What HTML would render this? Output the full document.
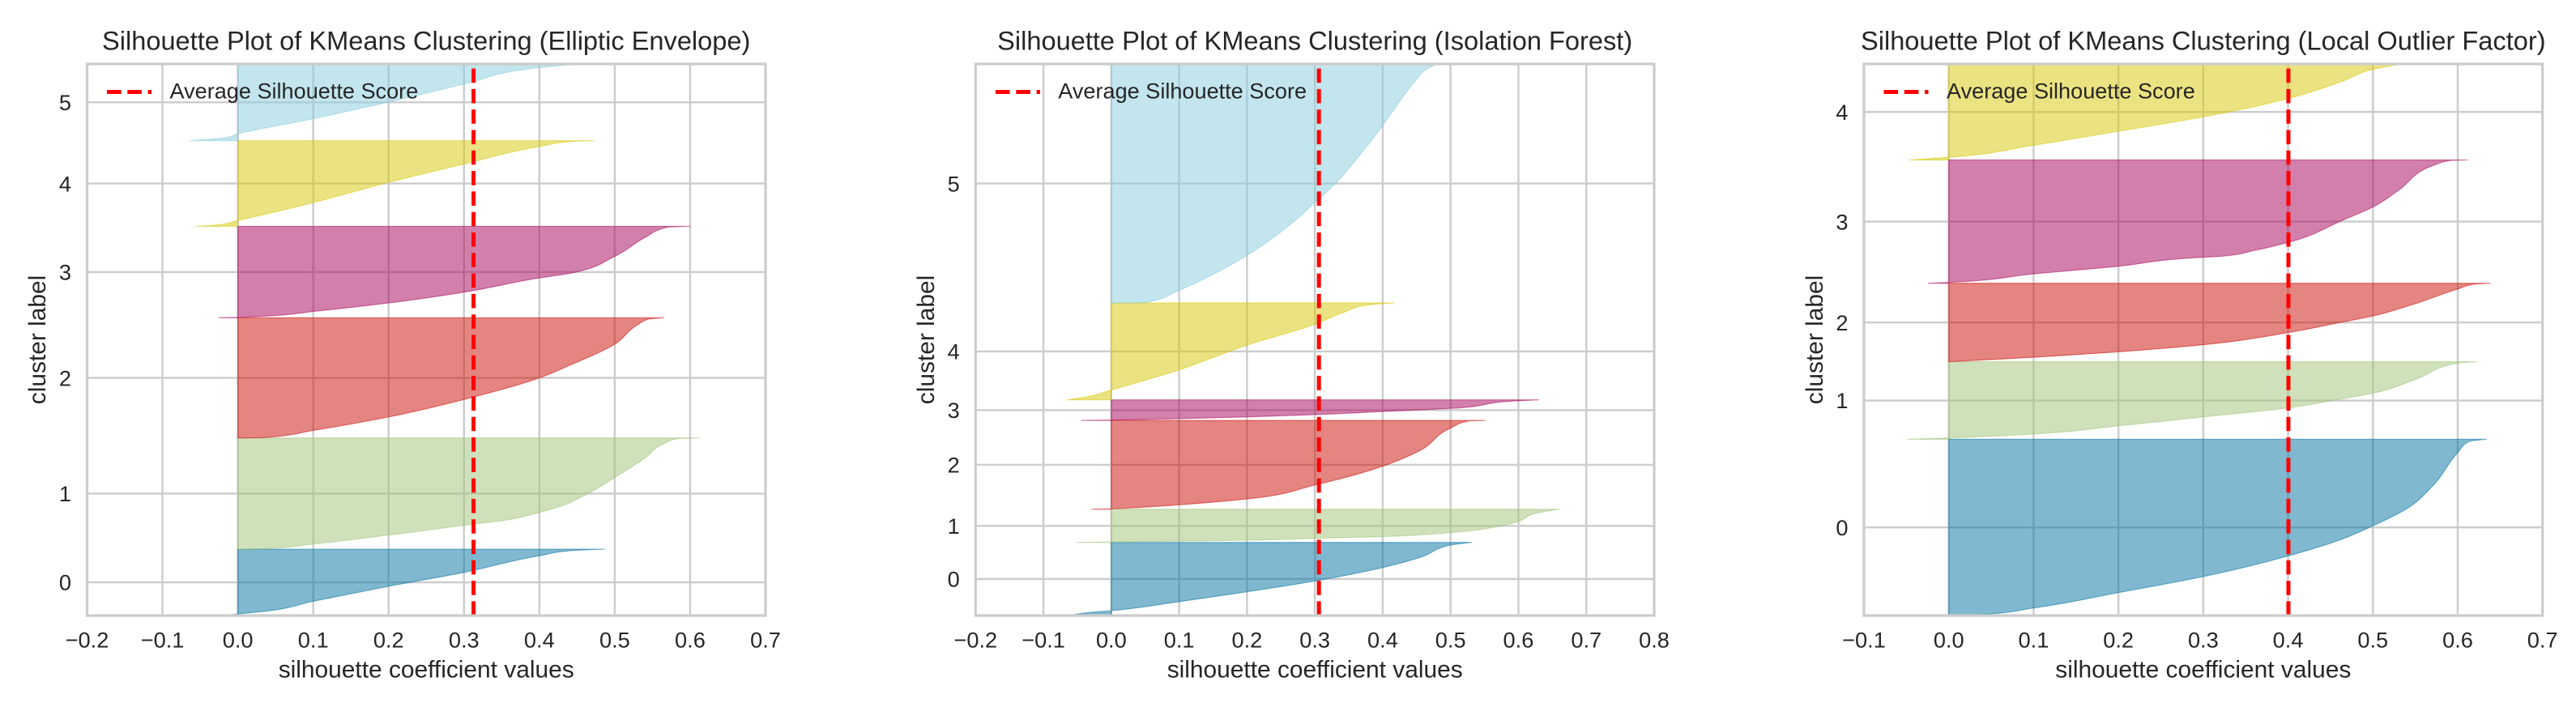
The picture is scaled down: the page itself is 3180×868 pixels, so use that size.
<!DOCTYPE html>
<html lang="en">
<head>
<meta charset="utf-8">
<title>Silhouette Plots of KMeans Clustering</title>
<style>
html,body{margin:0;padding:0;background:#fff;width:3180px;height:868px;overflow:hidden}
svg{display:block}
text{font-family:"Liberation Sans",Arial,sans-serif;fill:#262626}
.title{font-size:32.6px;text-anchor:middle}
.axis-label{font-size:29.9px;text-anchor:middle}
.tick{font-size:27.2px}
.legend-text{font-size:27.1px}
</style>
</head>
<body>
<svg id="figure" xmlns="http://www.w3.org/2000/svg" width="3180" height="868" viewBox="0 0 3180 868">
  <defs>
    <clipPath id="clip-elliptic"><rect x="107.5" y="79" width="837.5" height="681"/></clipPath>
    <clipPath id="clip-isolation"><rect x="1204.3" y="79" width="837.7" height="681"/></clipPath>
    <clipPath id="clip-lof"><rect x="2301" y="79" width="837.7" height="681"/></clipPath>
  </defs>

  <g>
    <g id="elliptic-plot"></g>
    <text class="title" x="526.2" y="61.7">Silhouette Plot of KMeans Clustering (Elliptic Envelope)</text>
    <text class="axis-label" x="526.2" y="836.5">silhouette coefficient values</text>
    <text class="axis-label" transform="translate(56,419.5) rotate(-90)">cluster label</text>
    <g>
      <line x1="132" x2="187" y1="113.5" y2="113.5" stroke="#ff0000" stroke-width="5" stroke-dasharray="17.6 7.7"/>
      <text class="legend-text" x="209.5" y="121.7">Average Silhouette Score</text>
    </g>
  </g>

  <g>
    <g id="isolation-plot"></g>
    <text class="title" x="1623.2" y="61.7">Silhouette Plot of KMeans Clustering (Isolation Forest)</text>
    <text class="axis-label" x="1623.2" y="836.5">silhouette coefficient values</text>
    <text class="axis-label" transform="translate(1153,419.5) rotate(-90)">cluster label</text>
    <g>
      <line x1="1229" x2="1284" y1="113.5" y2="113.5" stroke="#ff0000" stroke-width="5" stroke-dasharray="17.6 7.7"/>
      <text class="legend-text" x="1306.3" y="121.7">Average Silhouette Score</text>
    </g>
  </g>

  <g>
    <g id="lof-plot"></g>
    <text class="title" x="2719.8" y="61.7">Silhouette Plot of KMeans Clustering (Local Outlier Factor)</text>
    <text class="axis-label" x="2719.8" y="836.5">silhouette coefficient values</text>
    <text class="axis-label" transform="translate(2250,419.5) rotate(-90)">cluster label</text>
    <g>
      <line x1="2325.5" x2="2380.5" y1="113.5" y2="113.5" stroke="#ff0000" stroke-width="5" stroke-dasharray="17.6 7.7"/>
      <text class="legend-text" x="2403" y="121.7">Average Silhouette Score</text>
    </g>
  </g>
</svg>

<script>
// ---------- chart data ----------
const clusterLabels = [0, 1, 2, 3, 4, 5];
const clusterColors = ['#0272A2', '#9FC377', '#CA0B03', '#A50258', '#D7C703', '#88CCDD'];

// Elliptic Envelope
const ellipticXTicks = [-0.2, -0.1, 0.0, 0.1, 0.2, 0.3, 0.4, 0.5, 0.6, 0.7];
const ellipticAverage = 0.3127;
const ellipticSizes = [148, 248, 268, 204, 191, 171];
const ellipticRanks = [
  [0, 2.4, 6, 21.5, 44, 65, 90, 98, 100],
  [0, 0.5, 4.6, 12.7, 21.4, 26.2, 33, 39, 48.4, 64.5, 81.9, 94.8, 99.2, 100],
  [0, 0.2, 6.3, 17.5, 32, 50, 60.4, 78, 94, 98.9, 100],
  [0, 0.5, 2, 6.9, 16.2, 28, 43.6, 48.5, 67.2, 87.7, 99, 100],
  [0, 1.6, 6.8, 27.7, 51.3, 72.8, 93.2, 98.9, 100],
  [0, 3.5, 8.8, 28.7, 50.3, 73.7, 95.3, 100]
];
const ellipticCoefs = [
  [-0.014, 0, 0.0325, 0.1, 0.2, 0.3, 0.4, 0.445, 0.487],
  [0, 0.036, 0.1, 0.2, 0.3, 0.356, 0.4, 0.43, 0.46, 0.5, 0.54, 0.565, 0.582, 0.612],
  [0, 0.034, 0.1, 0.2, 0.3, 0.4, 0.44, 0.5, 0.53, 0.545, 0.565],
  [-0.025, 0, 0.04, 0.1, 0.2, 0.3, 0.4, 0.44, 0.5, 0.54, 0.57, 0.6],
  [-0.055, -0.027, 0, 0.1, 0.2, 0.3, 0.4, 0.44, 0.472],
  [-0.064, -0.02, 0, 0.1, 0.2, 0.3, 0.4, 0.45]
];

// Isolation Forest
const isolationXTicks = [-0.2, -0.1, 0.0, 0.1, 0.2, 0.3, 0.4, 0.5, 0.6, 0.7, 0.8];
const isolationAverage = 0.306;
const isolationSizes = [163, 74, 198, 46, 216, 533];
const isolationRanks = [
  [0, 3.7, 6.7, 19, 32.5, 47.2, 65.6, 80.4, 96.3, 100],
  [0, 1.4, 4, 6.8, 12.2, 17.6, 29.7, 46, 63.5, 87.8, 100],
  [0, 0.5, 2, 5, 11.6, 27.3, 48.5, 66.2, 91.4, 99.5, 100],
  [0, 2, 8.7, 17.4, 28.3, 43.5, 58.7, 95.7, 100],
  [0, 3.2, 10.2, 31, 56.5, 78, 90.8, 97.8, 100],
  [0, 0.2, 5.3, 12, 19.9, 24.5, 33, 42, 50.5, 61.2, 74.2, 83.8, 93.4, 97.6, 100]
];
const isolationCoefs = [
  [-0.063, -0.037, 0, 0.1, 0.2, 0.3, 0.4, 0.458, 0.5, 0.531],
  [-0.052, 0, 0.1, 0.2, 0.3, 0.4, 0.5, 0.565, 0.6, 0.626, 0.66],
  [-0.029, 0, 0.04, 0.1, 0.2, 0.3, 0.4, 0.455, 0.5, 0.527, 0.55],
  [-0.044, 0, 0.1, 0.2, 0.3, 0.4, 0.5, 0.6, 0.63],
  [-0.065, -0.035, 0, 0.1, 0.2, 0.3, 0.344, 0.376, 0.417],
  [0, 0.05, 0.1, 0.15, 0.2, 0.2247, 0.2645, 0.3, 0.3322, 0.3641, 0.4, 0.4236, 0.4495, 0.4634, 0.48]
];

// Local Outlier Factor
const lofXTicks = [-0.1, 0.0, 0.1, 0.2, 0.3, 0.4, 0.5, 0.6, 0.7];
const lofAverage = 0.4004;
const lofSizes = [393, 173, 175, 275, 214];
const lofRanks = [
  [0, 0.5, 4.3, 13, 22.1, 33.8, 42.7, 50.9, 60.6, 73.3, 92.4, 98.7, 100],
  [0, 1.7, 6.9, 17.3, 28.9, 40.5, 50.3, 59.5, 78, 98.3, 100],
  [0, 5.7, 12.6, 21.7, 37.1, 49.7, 58.3, 72.6, 92.6, 98.9, 100],
  [0, 0.7, 7.6, 13.8, 21.1, 21.8, 26.9, 33.1, 51.6, 61.8, 75.3, 96, 99.6, 100],
  [0, 2.8, 15.4, 29.9, 44.9, 64, 82.7, 94.4, 100]
];
const lofCoefs = [
  [0, 0.037, 0.1, 0.2, 0.3, 0.4, 0.46, 0.5, 0.54, 0.57, 0.6, 0.613, 0.634],
  [-0.048, 0, 0.1, 0.2, 0.3, 0.4, 0.454, 0.5, 0.552, 0.6, 0.622],
  [0, 0.1, 0.2, 0.3, 0.4, 0.46, 0.5, 0.546, 0.6, 0.62, 0.638],
  [-0.024, 0, 0.1, 0.2, 0.3, 0.32, 0.362, 0.4, 0.466, 0.5, 0.53, 0.573, 0.592, 0.611],
  [-0.046, 0, 0.1, 0.2, 0.3, 0.4, 0.466, 0.5, 0.533]
];

// ---------- rendering ----------
const SVG_NS = 'http://www.w3.org/2000/svg';
const AX_TOP = 79;
const AX_BOTTOM = 760;

function make(tag, parent, attrs) {
  const el = document.createElementNS(SVG_NS, tag);
  Object.keys(attrs).forEach(function (k) { el.setAttribute(k, attrs[k]); });
  parent.appendChild(el);
  return el;
}

function formatTick(v) {
  const s = Math.abs(v).toFixed(1);
  return v < -1e-9 ? '\u2212' + s : s;
}

// Tangents for a monotone cubic through (us[i], vs[i]).
function monotoneTangents(us, vs) {
  const n = us.length;
  const h = [];
  const s = [];
  for (let i = 0; i < n - 1; i++) {
    h.push(us[i + 1] - us[i]);
    s.push((vs[i + 1] - vs[i]) / h[i]);
  }
  const m = new Array(n).fill(0);
  for (let i = 1; i < n - 1; i++) {
    const p = (s[i - 1] * h[i] + s[i] * h[i - 1]) / (h[i - 1] + h[i]);
    m[i] = (Math.sign(s[i - 1]) + Math.sign(s[i])) * Math.min(Math.abs(s[i - 1]), Math.abs(s[i]), 0.5 * Math.abs(p));
  }
  m[0] = (3 * s[0] - m[1]) / 2;
  m[n - 1] = (3 * s[n - 2] - m[n - 2]) / 2;
  return m;
}

function drawPanel(key, hostId, clipId, left, right, xTicks, average, sizes, ranks, coefs) {
  const host = document.getElementById(hostId);
  const xMin = xTicks[0];
  const xMax = xTicks[xTicks.length - 1];
  const total = sizes.reduce(function (a, b) { return a + b; }, 0);
  const xScale = function (v) { return left + (v - xMin) / (xMax - xMin) * (right - left); };
  const yScale = function (v) { return AX_BOTTOM - v / total * (AX_BOTTOM - AX_TOP); };

  // vertical grid lines and x tick labels
  xTicks.forEach(function (t) {
    const px = xScale(t);
    if (t !== xMin && t !== xMax) {
      const g = make('line', host, { x1: px, x2: px, y1: AX_TOP, y2: AX_BOTTOM, stroke: '#cccccc', 'stroke-width': 2.4 });
      
      
    }
    const label = make('text', host, { class: 'tick', x: px, y: 799.3, 'text-anchor': 'middle' });
    label.textContent = formatTick(t);
    
    
  });

  // horizontal grid lines and y tick labels, one per cluster centre
  let cursor = 0;
  sizes.forEach(function (size, i) {
    const py = yScale(cursor + size / 2);
    const g = make('line', host, { x1: left, x2: right, y1: py, y2: py, stroke: '#cccccc', 'stroke-width': 2.4 });
    
    
    const label = make('text', host, { class: 'tick', x: left - 19.5, y: py + 9.7, 'text-anchor': 'end' });
    label.textContent = String(clusterLabels[i]);
    
    
    cursor += size;
  });

  // silhouette bands
  const bands = make('g', host, { 'clip-path': 'url(#' + clipId + ')' });
  
  
  cursor = 0;
  sizes.forEach(function (size, i) {
    const bottom = cursor;
    const r = ranks[i];
    const c = coefs[i];
    const m = monotoneTangents(r, c);
    const py = function (rank) { return yScale(bottom + rank / 100 * size); };
    let d = 'M' + xScale(0).toFixed(2) + ' ' + yScale(bottom).toFixed(2);
    d += 'L' + xScale(c[0]).toFixed(2) + ' ' + py(r[0]).toFixed(2);
    for (let j = 0; j < r.length - 1; j++) {
      const dr = (r[j + 1] - r[j]) / 3;
      d += 'C' + xScale(c[j] + dr * m[j]).toFixed(2) + ' ' + py(r[j] + dr).toFixed(2) +
           ' ' + xScale(c[j + 1] - dr * m[j + 1]).toFixed(2) + ' ' + py(r[j + 1] - dr).toFixed(2) +
           ' ' + xScale(c[j + 1]).toFixed(2) + ' ' + py(r[j + 1]).toFixed(2);
    }
    d += 'L' + xScale(0).toFixed(2) + ' ' + yScale(bottom + size).toFixed(2) + 'Z';
    const band = make('path', bands, {
      d: d,
      fill: clusterColors[i],
      'fill-opacity': 0.5,
      stroke: clusterColors[i],
      'stroke-opacity': 0.5,
      'stroke-width': 1.2,
      'stroke-linejoin': 'round'
    });
    
    
    cursor += size;
  });

  // average silhouette score line (drawn bottom to top)
  const avgX = xScale(average);
  const avg = make('line', host, {
    x1: avgX, x2: avgX, y1: AX_BOTTOM, y2: AX_TOP,
    stroke: '#ff0000', 'stroke-width': 5, 'stroke-dasharray': '17.6 7.7'
  });
  
  

  // axes frame
  const frame = make('rect', host, {
    x: left, y: AX_TOP, width: right - left, height: AX_BOTTOM - AX_TOP,
    fill: 'none', stroke: '#cccccc', 'stroke-width': 3.2
  });
  
  
}

drawPanel('elliptic', 'elliptic-plot', 'clip-elliptic', 107.5, 945, ellipticXTicks, ellipticAverage, ellipticSizes, ellipticRanks, ellipticCoefs);
drawPanel('isolation', 'isolation-plot', 'clip-isolation', 1204.3, 2042, isolationXTicks, isolationAverage, isolationSizes, isolationRanks, isolationCoefs);
drawPanel('lof', 'lof-plot', 'clip-lof', 2301, 3138.7, lofXTicks, lofAverage, lofSizes, lofRanks, lofCoefs);
</script>
</body>
</html>
